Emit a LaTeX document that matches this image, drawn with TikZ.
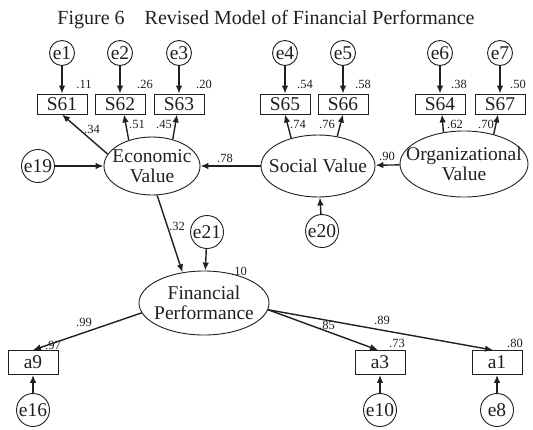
\documentclass[tikz,border=0pt]{standalone}
\usepackage{fontspec}
\setmainfont{Liberation Serif}
\usetikzlibrary{shapes.geometric,arrows.meta}
\definecolor{ink}{RGB}{35,31,32}
\begin{document}
\begin{tikzpicture}[x=1pt,y=-1pt,
  every node/.style={text=ink},
  obs/.style={draw=ink, line width=0.9pt, minimum width=50pt, minimum height=20pt, inner sep=0pt, font=\fontsize{19.5}{19.5}\selectfont},
  obsa/.style={obs, minimum height=24pt},
  err/.style={circle, draw=ink, line width=0.9pt, minimum size=25pt, inner sep=0pt, font=\fontsize{19.5}{19.5}\selectfont},
  errb/.style={err, minimum size=33pt},
  lat/.style={ellipse, draw=ink, line width=0.9pt, inner sep=0pt},
  lattext/.style={align=center, inner sep=0pt, font=\fontsize{19.5}{19.5}\selectfont},
  lbl/.style={font=\fontsize{12.5}{12.5}\selectfont, inner sep=0pt},
  arr/.style={draw=ink, -{Latex[length=8pt,width=6.5pt]}, line width=1.4pt}
]
\useasboundingbox (0,0) rectangle (533,429);
\fill[white] (0,0) rectangle (533,429);

\node[font=\fontsize{20}{20}\selectfont, anchor=base] (title) at (266,24) {Figure 6\hspace{1em}Revised Model of Financial Performance};

% error terms top
\node[err] (e1) at (62,53) {e1};
\node[err] (e2) at (120,53) {e2};
\node[err] (e3) at (179,53) {e3};
\node[err] (e4) at (285,53) {e4};
\node[err] (e5) at (343,53) {e5};
\node[err] (e6) at (440,53) {e6};
\node[err] (e7) at (500,53) {e7};

% indicators
\node[obs] (s61) at (62,104) {S61};
\node[obs] (s62) at (120,104) {S62};
\node[obs] (s63) at (179,104) {S63};
\node[obs] (s65) at (285,104) {S65};
\node[obs] (s66) at (343,104) {S66};
\node[obs] (s64) at (440,104) {S64};
\node[obs] (s67) at (500,104) {S67};

% latent variables
\node[lat, minimum width=96pt, minimum height=58pt] (econ) at (152,166) {};
\node[lattext] (econt) at (152,166) {Economic\\Value};
\node[lat, minimum width=114pt, minimum height=62pt] (social) at (318,166) {};
\node[lattext] (socialt) at (318,166) {Social Value};
\node[lat, minimum width=128pt, minimum height=66pt] (org) at (464,164) {};
\node[lattext] (orgt) at (464,164) {Organizational\\Value};
\node[lat, minimum width=130pt, minimum height=64pt] (fp) at (204,303) {};
\node[lattext] (fpt) at (204,303) {Financial\\Performance};

\node[errb] (e19) at (38,166) {e19};
\node[errb] (e21) at (207,232) {e21};
\node[errb] (e20) at (322,231) {e20};

% bottom indicators
\node[obsa] (a9) at (33,362.5) {a9};
\node[obsa] (a3) at (380,362.5) {a3};
\node[obsa] (a1) at (497,362.5) {a1};
\node[errb] (e16) at (33,410) {e16};
\node[errb] (e10) at (380,410) {e10};
\node[errb] (e8) at (497,410) {e8};

% arrows errors -> indicators
\foreach \e/\s in {e1/s61,e2/s62,e3/s63,e4/s65,e5/s66,e6/s64,e7/s67}
  \draw[arr] (\e) -- (\s);
\draw[arr] (e16) -- (a9);
\draw[arr] (e10) -- (a3);
\draw[arr] (e8) -- (a1);

% loadings
\draw[arr] (econ.165) -- (s61.south);
\draw[arr] (econ.132) -- ([xshift=4pt]s62.south);
\draw[arr] (econ.52) -- ([xshift=-2pt]s63.south);
\draw[arr] (social.134) -- (s65.south);
\draw[arr] (social.57) -- (s66.south);
\draw[arr] (org.123) -- ([xshift=2pt]s64.south);
\draw[arr] (org.45) -- ([xshift=-2pt]s67.south);

% structural paths
\draw[arr] (e19) -- (econ);
\draw[arr] (social) -- (econ);
\draw[arr] (org) -- (social);
\draw[arr] (e20) -- (social);
\draw[arr] (econ.-80) -- (fp.125);
\draw[arr] (e21) -- (fp);
\draw[arr] (fp.189) -- (a9.north);
\draw[arr] (fp.-6) -- ([xshift=-2pt]a3.north);
\draw[arr] (fp.-6) -- ([xshift=-4pt]a1.north);

% labels
\node[lbl] (r11) at (84,84) {.11};
\node[lbl] (r26) at (145,84) {.26};
\node[lbl] (r20) at (204,84) {.20};
\node[lbl] (r54) at (305,84) {.54};
\node[lbl] (r58) at (363,84) {.58};
\node[lbl] (r38) at (459,84) {.38};
\node[lbl] (r50) at (518,84) {.50};
\node[lbl] (l34) at (92,129) {.34};
\node[lbl] (l51) at (137,124) {.51};
\node[lbl] (l45) at (164,124) {.45};
\node[lbl] (l74) at (298,124) {.74};
\node[lbl] (l76) at (327,124) {.76};
\node[lbl] (l62) at (455,124) {.62};
\node[lbl] (l70) at (486,124) {.70};
\node[lbl] (l78) at (225,158) {.78};
\node[lbl] (l90) at (387,156) {.90};
\node[lbl] (l32) at (177,226) {.32};
\node[lbl] (r10) at (239,271) {.10};
\node[lbl] (l99) at (84,322) {.99};
\node[lbl] (r97) at (53,345) {.97};
\node[lbl] (l85) at (327,325) {.85};
\node[lbl] (l89) at (382,320) {.89};
\node[lbl] (r73) at (397,343) {.73};
\node[lbl] (r80) at (515,343) {.80};
\end{tikzpicture}
\end{document}
